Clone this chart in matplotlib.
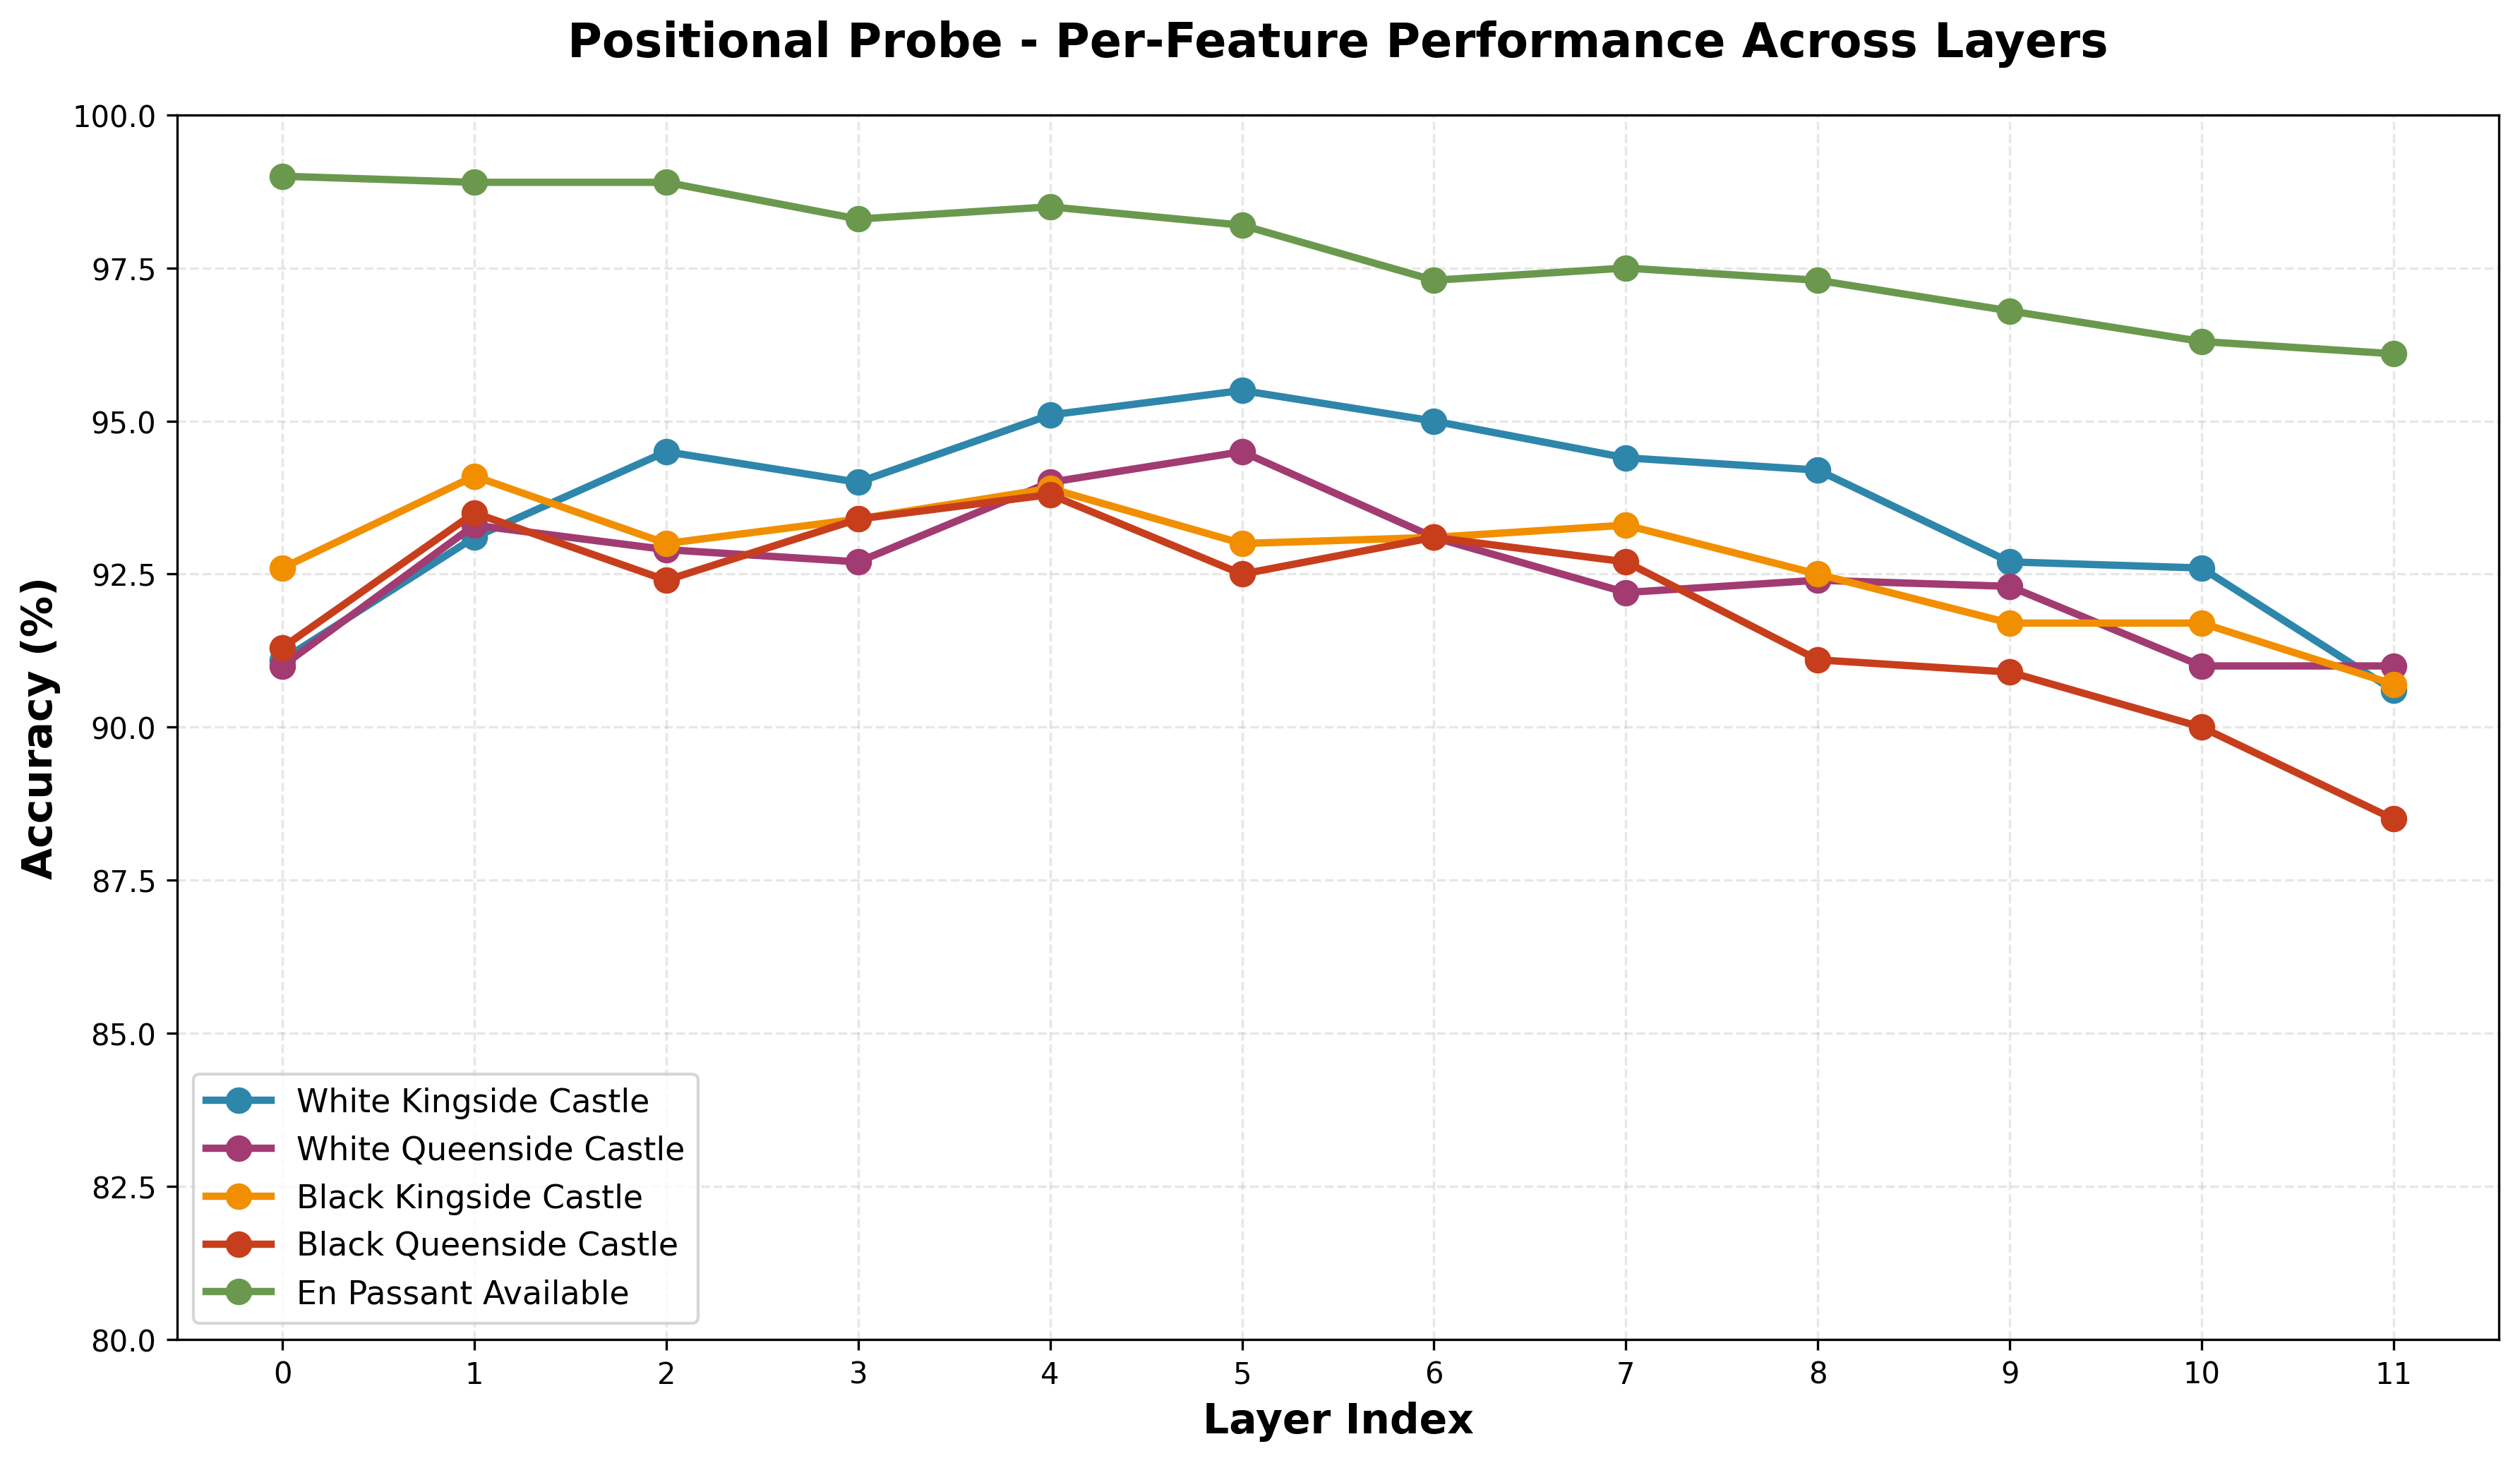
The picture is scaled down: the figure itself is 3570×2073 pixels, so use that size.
import matplotlib
matplotlib.use("Agg")
import matplotlib.pyplot as plt

layers = list(range(12))
white_kingside = [91.1, 93.1, 94.5, 94.0, 95.1, 95.5, 95.0, 94.4, 94.2, 92.7, 92.6, 90.6]
white_queenside = [91.0, 93.3, 92.9, 92.7, 94.0, 94.5, 93.1, 92.2, 92.4, 92.3, 91.0, 91.0]
black_kingside = [92.6, 94.1, 93.0, 93.4, 93.9, 93.0, 93.1, 93.3, 92.5, 91.7, 91.7, 90.7]
black_queenside = [91.3, 93.5, 92.4, 93.4, 93.8, 92.5, 93.1, 92.7, 91.1, 90.9, 90.0, 88.5]
en_passant = [99.0, 98.9, 98.9, 98.3, 98.5, 98.2, 97.3, 97.5, 97.3, 96.8, 96.3, 96.1]

series = [
    ("White Kingside Castle", white_kingside, "#2E86AB"),
    ("White Queenside Castle", white_queenside, "#A23B72"),
    ("Black Kingside Castle", black_kingside, "#F18F01"),
    ("Black Queenside Castle", black_queenside, "#C73E1D"),
    ("En Passant Available", en_passant, "#6A994E"),
]

fig = plt.figure(figsize=(11.9, 6.913), dpi=300)
ax = fig.add_axes([0.0702, 0.0845, 0.9215, 0.8365])

for name, vals, color in series:
    ax.plot(layers, vals, marker="o", linewidth=2.5, markersize=8, color=color, label=name)

ax.set_xlim(-0.55, 11.55)
ax.set_ylim(80, 100)
ax.set_xticks(layers)
ax.set_xlabel("Layer Index", fontsize=14, fontweight="bold")
ax.set_ylabel("Accuracy (%)", fontsize=14, fontweight="bold")
ax.set_title("Positional Probe - Per-Feature Performance Across Layers",
             fontsize=16, fontweight="bold", pad=20)
ax.grid(True, linestyle="--", alpha=0.3)
ax.legend(loc="lower left", fontsize=11)

fig.savefig("out.png", dpi=300)
